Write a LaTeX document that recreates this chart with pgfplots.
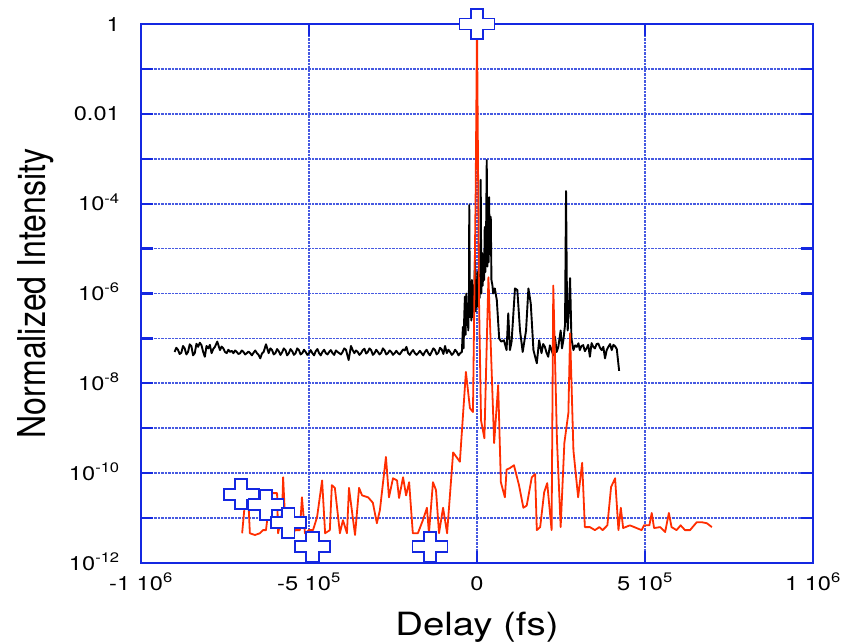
\documentclass[border=0pt]{standalone}
\usepackage{fontspec}
\setmainfont{TeX Gyre Heros}
\usepackage{graphicx}
\usepackage{pgfplots}
\pgfplotsset{compat=1.18}
\definecolor{axblue}{RGB}{20,40,225}
\definecolor{gridblue}{RGB}{70,90,225}
\definecolor{redline}{RGB}{255,45,0}
\pgfdeclareplotmark{opencross}{%
  \pgfpathmoveto{\pgfqpoint{-6.3pt}{15pt}}%
  \pgfpathlineto{\pgfqpoint{6.3pt}{15pt}}%
  \pgfpathlineto{\pgfqpoint{6.3pt}{5.5pt}}%
  \pgfpathlineto{\pgfqpoint{17.5pt}{5.5pt}}%
  \pgfpathlineto{\pgfqpoint{17.5pt}{-5.5pt}}%
  \pgfpathlineto{\pgfqpoint{6.3pt}{-5.5pt}}%
  \pgfpathlineto{\pgfqpoint{6.3pt}{-15pt}}%
  \pgfpathlineto{\pgfqpoint{-6.3pt}{-15pt}}%
  \pgfpathlineto{\pgfqpoint{-6.3pt}{-5.5pt}}%
  \pgfpathlineto{\pgfqpoint{-17.5pt}{-5.5pt}}%
  \pgfpathlineto{\pgfqpoint{-17.5pt}{5.5pt}}%
  \pgfpathlineto{\pgfqpoint{-6.3pt}{5.5pt}}%
  \pgfpathclose
  \pgfusepathqfillstroke}
\newcommand{\sx}[1]{\scalebox{1.2}[1]{#1}}
\newcommand{\tf}{\fontsize{19.7}{22}\selectfont}
\begin{document}
\begin{tikzpicture}
\begin{axis}[
  scale only axis, width=672pt, height=539pt,
  xmin=-1000000, xmax=1000000,
  ymode=log, ymin=1e-12, ymax=1,
  clip=false,
  xtick={-1000000,-500000,0,500000,1000000},
  xticklabels={\sx{-1 10\textsuperscript{6}},\sx{-5 10\textsuperscript{5}},\sx{0},\sx{5 10\textsuperscript{5}},\sx{1 10\textsuperscript{6}}},
  ytick={1,1e-1,1e-2,1e-3,1e-4,1e-5,1e-6,1e-7,1e-8,1e-9,1e-10,1e-11,1e-12},
  yticklabels={\sx{1},,\sx{0.01},,\sx{10\textsuperscript{-4}},,\sx{10\textsuperscript{-6}},,\sx{10\textsuperscript{-8}},,\sx{10\textsuperscript{-10}},,\sx{10\textsuperscript{-12}}},
  yminorticks=false, xminorticks=false,
  scaled x ticks=false,
  grid=major,
  major grid style={gridblue, densely dotted, line width=1.7pt},
  axis line style={axblue, line width=2.3pt},
  every tick/.style={axblue, line width=2.3pt},
  major tick length=12pt,
  tick align=inside,
  ticklabel style={font=\tf, inner sep=0pt},
  xticklabel style={anchor=base, yshift=-27pt},
  yticklabel style={anchor=base east, xshift=-21pt, yshift=-7pt},
  xlabel={\sx{Delay (fs)}},
  ylabel={\scalebox{1}[1.2]{Normalized Intensity}},
  xlabel style={font=\fontsize{32}{34}\selectfont, inner sep=0pt, at={(axis description cs:0.5,0)}, anchor=north, yshift=-49pt},
  ylabel style={font=\fontsize{32}{34}\selectfont, inner sep=0pt, at={([xshift=-105.5pt]axis description cs:0,0.5)}, anchor=center, rotate=0},
]
% black trace
\addplot[black, line width=1.9pt, mark=none, line join=round] table {
-900000 5.0e-8
-895000 6.2e-8
-890000 5.6e-8
-885000 4.5e-8
-880000 4.8e-8
-875000 6.8e-8
-870000 6.0e-8
-865000 4.4e-8
-860000 5.0e-8
-855000 7.4e-8
-850000 6.7e-8
-845000 4.2e-8
-840000 4.7e-8
-835000 7.6e-8
-830000 6.5e-8
-825000 8.0e-8
-820000 7.1e-8
-815000 5.0e-8
-810000 3.9e-8
-805000 6.8e-8
-800000 6.0e-8
-795000 7.2e-8
-790000 4.7e-8
-785000 5.8e-8
-780000 6.5e-8
-773000 8.5e-8
-765000 5.5e-8
-760000 6.6e-8
-755000 6.0e-8
-750000 5.0e-8
-745000 4.7e-8
-740000 5.6e-8
-735000 5.0e-8
-730000 5.3e-8
-725000 4.7e-8
-720000 5.4e-8
-715000 5.0e-8
-710000 4.5e-8
-705000 4.7e-8
-700000 5.4e-8
-695000 5.0e-8
-690000 4.4e-8
-685000 4.7e-8
-680000 5.1e-8
-675000 4.7e-8
-670000 4.2e-8
-665000 4.8e-8
-660000 5.4e-8
-655000 4.7e-8
-650000 4.3e-8
-645000 3.6e-8
-640000 4.6e-8
-635000 5.0e-8
-628000 7.4e-8
-620000 4.7e-8
-615000 6.0e-8
-610000 5.5e-8
-605000 4.4e-8
-600000 4.7e-8
-595000 5.8e-8
-590000 5.2e-8
-585000 4.3e-8
-580000 4.9e-8
-575000 6.0e-8
-570000 5.5e-8
-565000 4.2e-8
-560000 4.7e-8
-555000 5.8e-8
-550000 5.2e-8
-545000 4.3e-8
-540000 4.7e-8
-535000 6.0e-8
-530000 5.5e-8
-525000 4.4e-8
-520000 4.7e-8
-515000 5.6e-8
-510000 5.0e-8
-505000 4.3e-8
-500000 4.7e-8
-495000 5.5e-8
-490000 4.7e-8
-485000 4.2e-8
-480000 5.2e-8
-475000 5.8e-8
-470000 4.7e-8
-465000 4.2e-8
-460000 5.0e-8
-455000 5.6e-8
-450000 4.7e-8
-445000 4.4e-8
-440000 5.0e-8
-435000 5.5e-8
-430000 4.7e-8
-425000 4.3e-8
-420000 5.4e-8
-415000 5.0e-8
-410000 4.7e-8
-405000 4.4e-8
-400000 5.0e-8
-395000 6.0e-8
-390000 5.6e-8
-382000 3.3e-8
-375000 6.8e-8
-370000 5.5e-8
-365000 4.7e-8
-360000 5.4e-8
-355000 5.0e-8
-350000 4.3e-8
-345000 4.7e-8
-340000 5.5e-8
-335000 5.9e-8
-330000 4.6e-8
-325000 5.0e-8
-320000 6.0e-8
-315000 5.5e-8
-310000 4.3e-8
-305000 4.7e-8
-300000 5.6e-8
-295000 5.0e-8
-290000 4.4e-8
-285000 4.8e-8
-280000 6.0e-8
-275000 5.4e-8
-270000 4.4e-8
-265000 4.7e-8
-260000 5.4e-8
-255000 5.0e-8
-250000 4.3e-8
-245000 4.7e-8
-240000 5.3e-8
-235000 4.7e-8
-230000 4.4e-8
-225000 5.0e-8
-220000 5.7e-8
-215000 5.4e-8
-210000 6.5e-8
-205000 4.7e-8
-200000 4.3e-8
-195000 5.0e-8
-190000 5.5e-8
-185000 4.7e-8
-180000 4.3e-8
-175000 4.7e-8
-170000 5.3e-8
-165000 4.7e-8
-160000 4.2e-8
-155000 5.0e-8
-150000 5.6e-8
-145000 4.7e-8
-140000 4.2e-8
-135000 5.0e-8
-130000 6.0e-8
-125000 5.5e-8
-120000 4.4e-8
-115000 4.8e-8
-110000 6.2e-8
-105000 5.7e-8
-100000 4.5e-8
-95000 6.8e-8
-90000 4.7e-8
-85000 5.6e-8
-80000 5.0e-8
-75000 4.3e-8
-70000 4.7e-8
-65000 5.6e-8
-60000 5.0e-8
-55000 4.2e-8
-50000 4.7e-8
-45000 5.0e-8
-42000 1.8e-7
-40000 6.0e-8
-38000 3.0e-7
-36000 8.5e-7
-34000 1.2e-7
-32000 1.0e-6
-30000 2.0e-7
-28000 6.0e-7
-26000 1.5e-7
-24000 1.0e-6
-23000 9.3e-5
-21000 3.0e-7
-19000 1.2e-6
-17000 2.5e-7
-15000 2.0e-6
-13000 3.0e-7
-11000 1.5e-6
-9000 4.0e-7
-7000 3.0e-6
-6000 5.5e-6
-4000 4.0e-7
-2000 2.0e-6
0 5.0e-7
2000 3.0e-6
4000 6.0e-7
6000 2.0e-6
8000 8.0e-7
10000 4.0e-6
11000 3.4e-4
13000 1.0e-6
15000 8.0e-6
17000 1.5e-6
19000 6.6e-6
21000 2.0e-6
23000 3.0e-5
25000 3.0e-6
27000 2.0e-5
29000 9.3e-4
31000 4.0e-6
33000 5.0e-5
35000 5.0e-6
36000 1.4e-4
38000 8.0e-6
40000 3.0e-5
41000 5.1e-5
43000 2.0e-6
46000 1.5e-6
48000 1.0e-6
53000 1.3e-6
59000 7.1e-7
66000 1.0e-7
72000 8.5e-8
80000 9.1e-8
88000 5.5e-8
93000 3.6e-7
98000 5.5e-8
103000 8.5e-8
113000 1.3e-6
120000 1.2e-6
128000 1.5e-7
136000 5.0e-8
146000 1.5e-7
153000 1.3e-6
160000 6.0e-7
168000 5.5e-8
178000 2.8e-8
185000 9.1e-8
192000 4.7e-8
197000 7.5e-8
202000 6.5e-8
207000 4.8e-8
212000 3.9e-8
217000 7.0e-8
222000 5.5e-8
227000 4.2e-8
232000 1.1e-7
237000 5.0e-8
242000 6.5e-8
249000 1.5e-7
253000 6.0e-8
257000 9.1e-8
262000 2.0e-7
265000 1.9e-4
268000 4.0e-7
270000 1.5e-7
274000 6.0e-7
277000 2.2e-6
281000 1.0e-7
287000 5.5e-8
292000 7.0e-8
297000 6.5e-8
302000 7.8e-8
306000 5.5e-8
311000 6.8e-8
316000 7.1e-8
321000 5.2e-8
326000 6.0e-8
331000 7.2e-8
336000 3.9e-8
341000 7.9e-8
346000 6.5e-8
351000 6.0e-8
356000 7.5e-8
361000 7.7e-8
366000 6.2e-8
371000 5.5e-8
376000 6.5e-8
381000 3.6e-8
386000 5.5e-8
391000 6.5e-8
396000 7.5e-8
401000 5.5e-8
406000 7.2e-8
411000 6.7e-8
416000 5.8e-8
423000 1.9e-8
};
% red trace
\addplot[redline, line width=1.8pt, mark=none, line join=round] table {
-699000 4.6e-12
-690000 2.5e-11
-681000 3.0e-11
-676000 4.6e-12
-661000 4.2e-12
-646000 4.6e-12
-637000 5.4e-12
-628000 5.4e-12
-622000 1.3e-11
-610000 3.6e-11
-595000 3.6e-11
-592000 4.6e-12
-580000 1.3e-11
-577000 8.1e-11
-571000 9.0e-12
-565000 4.6e-12
-551000 3.6e-12
-542000 5.4e-12
-527000 5.4e-12
-521000 2.9e-11
-512000 4.6e-12
-500000 5.4e-12
-488000 5.4e-12
-476000 1.05e-11
-461000 6.9e-11
-452000 4.6e-12
-438000 5.4e-12
-432000 5.4e-11
-423000 4.7e-11
-408000 4.6e-12
-399000 9.0e-12
-387000 4.6e-12
-381000 4.7e-11
-363000 4.2e-12
-351000 4.7e-11
-342000 3.2e-11
-324000 2.9e-11
-310000 2.2e-11
-298000 7.7e-12
-289000 1.5e-11
-271000 2.3e-10
-262000 2.9e-11
-250000 7.7e-11
-238000 6.9e-11
-232000 2.8e-11
-220000 8.1e-11
-211000 3.2e-11
-202000 6.3e-11
-191000 4.6e-12
-176000 4.6e-12
-161000 9.0e-12
-149000 1.7e-11
-143000 4.6e-12
-131000 6.3e-11
-122000 4.2e-11
-113000 4.6e-12
-101000 1.7e-11
-89000 4.6e-12
-71000 2.9e-10
-51000 1.8e-10
-33000 1.8e-8
-21000 2.8e-9
-12000 2.3e-9
-4000 1.7e-4
0 1.0
6000 7.1e-7
12000 1.5e-9
22000 6.0e-10
34000 2.3e-6
51000 4.7e-10
63000 9.1e-9
71000 6.3e-11
83000 2.9e-11
88000 1.2e-10
98000 1.3e-10
110000 1.5e-10
125000 5.4e-11
138000 1.7e-11
148000 1.9e-11
163000 8.1e-11
173000 9.5e-11
178000 5.4e-12
188000 6.3e-12
200000 3.8e-11
209000 6.0e-11
222000 5.4e-12
227000 1.5e-6
238000 5.4e-10
249000 6.3e-12
260000 4.7e-10
272000 2.2e-9
277000 1.3e-7
287000 3.2e-10
301000 2.9e-11
313000 1.7e-10
321000 6.3e-12
336000 6.3e-12
351000 5.4e-12
364000 6.3e-12
374000 5.4e-12
388000 6.9e-12
399000 4.9e-11
411000 7.7e-11
421000 5.4e-12
428000 1.7e-11
435000 6.0e-12
455000 6.9e-12
475000 6.0e-12
490000 5.4e-12
497000 6.9e-12
513000 6.9e-12
520000 1.3e-11
527000 6.0e-12
545000 6.3e-12
560000 4.9e-12
571000 1.3e-11
579000 6.3e-12
594000 5.4e-12
606000 6.9e-12
619000 5.4e-12
634000 5.4e-12
654000 8.1e-12
669000 8.1e-12
684000 7.7e-12
699000 6.3e-12
};
% cross markers
\addplot[only marks, mark=opencross, mark options={draw=axblue, fill=white, line width=1.9pt}] table {
0 1
-702000 3.4e-11
-628000 2.0e-11
-562000 7.8e-12
-489000 2.3e-12
-140000 2.3e-12
};
\end{axis}
\pgfresetboundingbox
\path[use as bounding box] ([xshift=-141pt,yshift=-80pt]current axis.south west) rectangle ([xshift=32pt,yshift=24pt]current axis.north east);
\end{tikzpicture}
\end{document}
